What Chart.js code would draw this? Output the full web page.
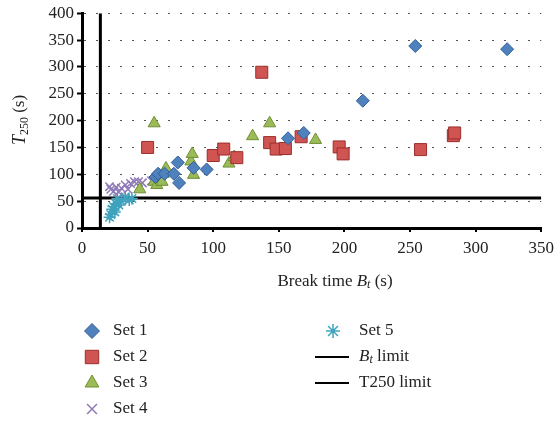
<!DOCTYPE html>
<html lang="en">
  <head>
    <meta charset="UTF-8" />
    <title>Break time vs T250</title>
    <script src="https://cdn.jsdelivr.net/npm/chart.js"></script>
    <style>
      * {
        box-sizing: border-box;
        padding: 0;
        margin: 0;
      }
      body {
        background: #fff;
        width: 560px;
        height: 425px;
        overflow: hidden;
      }
      .wrap {
        position: relative;
        width: 560px;
        height: 425px;
      }
    </style>
  </head>
  <body>
    <div class="wrap">
      <canvas id="myChart"></canvas>
    </div>
  </body>
  <script>
    // values
    const set1X = [56, 58, 63, 70, 73, 74, 85, 95, 157, 169, 214, 254, 324];
    const set1Y = [95, 101, 101, 101, 122, 84, 112, 109, 167, 177, 237, 339, 333];
    const set2X = [50, 100, 108, 118, 137, 143, 148, 155, 167, 196, 199, 258, 283, 284];
    const set2Y = [150, 135, 147, 131, 290, 159, 147, 148, 170, 151, 138, 146, 172, 177];
    const set3X = [44, 55, 55, 57, 61, 62, 64, 83, 84, 85, 112, 116, 130, 143, 178];
    const set3Y = [72, 195, 86, 80, 86, 101, 111, 124, 138, 99, 120, 132, 171, 195, 164];
    const set4X = [21, 22, 24, 26, 28, 30, 33, 35, 37, 40, 43, 46, 53];
    const set4Y = [77, 72, 68, 76, 67, 74, 80, 72, 83, 86, 86, 84, 88];
    const set5X = [21, 22, 23, 24, 25, 26, 28, 30, 27, 33, 36, 38];
    const set5Y = [20, 25, 35, 40, 30, 45, 43, 50, 55, 58, 52, 55];
    const btLimit = 14;
    const t250Limit = 56;
    const xTicks = [0, 50, 100, 150, 200, 250, 300, 350];
    const yTicks = [0, 50, 100, 150, 200, 250, 300, 350, 400];

    const SERIF = "'Liberation Serif', 'DejaVu Serif', serif";
    const pts = (xs, ys) => xs.map((x, i) => ({ x: x, y: ys[i] }));

    const sets = [
      { label: "Set 1", data: pts(set1X, set1Y), style: "rectRot", r: 6.5, fill: "#4f81bd", line: "#2f5e98" },
      { label: "Set 2", data: pts(set2X, set2Y), style: "rect", r: 8.5, fill: "#d05452", line: "#9b2f2d" },
      { label: "Set 3", data: pts(set3X, set3Y), style: "triangle", r: 7, fill: "#9bbb59", line: "#6f8f35" },
      { label: "Set 4", data: pts(set4X, set4Y), style: "crossRot", r: 6, fill: "#8f7ab8", line: "#8f7ab8" },
      { label: "Set 5", data: pts(set5X, set5Y), style: "star", r: 6, fill: "#4bacc6", line: "#3fa3bd" },
    ];

    const datasets = sets.map((s) => ({
      label: s.label,
      data: s.data,
      pointStyle: s.style,
      pointRadius: s.r,
      pointBackgroundColor: s.fill,
      pointBorderColor: s.line,
      pointBorderWidth: s.style === "crossRot" || s.style === "star" ? 1.5 : 1,
      showLine: false,
    }));
    datasets.push({
      label: "Bt limit",
      data: [{ x: btLimit, y: 0 }, { x: btLimit, y: 400 }],
      showLine: true,
      borderColor: "#000",
      borderWidth: 3,
      pointRadius: 0,
    });
    datasets.push({
      label: "T250 limit",
      data: [{ x: 0, y: t250Limit }, { x: 350, y: t250Limit }],
      showLine: true,
      borderColor: "#000",
      borderWidth: 3,
      pointRadius: 0,
    });

    // axis titles with italic / subscript parts, plus the two-column legend
    const extras = {
      id: "extras",
      afterDraw(chart) {
        const c = chart.ctx;
        c.save();
        c.fillStyle = "#222";
        c.textBaseline = "middle";

        // y title: T250 (s)
        c.save();
        c.translate(20, 120);
        c.rotate(-Math.PI / 2);
        c.textAlign = "left";
        c.font = "italic 18px " + SERIF;
        const w1 = c.measureText("T").width;
        c.font = "12px " + SERIF;
        const w2 = c.measureText("250").width;
        c.font = "17px " + SERIF;
        const w3 = c.measureText(" (s)").width;
        let x0 = -(w1 + w2 + w3) / 2;
        c.font = "italic 18px " + SERIF;
        c.fillText("T", x0, 0);
        c.font = "12px " + SERIF;
        c.fillText("250", x0 + w1, 5);
        c.font = "17px " + SERIF;
        c.fillText(" (s)", x0 + w1 + w2, 0);
        c.restore();

        // x title: Break time Bt (s)
        c.textAlign = "left";
        c.font = "17px " + SERIF;
        const a = "Break time ";
        const wa = c.measureText(a).width;
        c.font = "italic 17px " + SERIF;
        const wb = c.measureText("B").width;
        c.font = "italic 12px " + SERIF;
        const wt = c.measureText("t").width;
        c.font = "17px " + SERIF;
        const wc = c.measureText(" (s)").width;
        let xs = 335 - (wa + wb + wt + wc) / 2;
        const yT = 282;
        c.font = "17px " + SERIF;
        c.fillText(a, xs, yT);
        c.font = "italic 17px " + SERIF;
        c.fillText("B", xs + wa, yT);
        c.font = "italic 12px " + SERIF;
        c.fillText("t", xs + wa + wb, yT + 3);
        c.font = "17px " + SERIF;
        c.fillText(" (s)", xs + wa + wb + wt, yT);

        // legend
        const rows = [331, 357, 383, 409];
        c.font = "17px " + SERIF;
        sets.forEach((s, i) => {
          const col = i < 4 ? 0 : 1;
          const row = i < 4 ? i : i - 4;
          const mx = col === 0 ? 92 : 333;
          const tx = col === 0 ? 113 : 359;
          c.fillStyle = s.fill;
          c.strokeStyle = s.line;
          c.lineWidth = s.style === "crossRot" || s.style === "star" ? 1.5 : 1;
          Chart.helpers.drawPoint(c, { pointStyle: s.style, radius: s.r + 1, rotation: 0, borderWidth: c.lineWidth }, mx, rows[row]);
          c.fillStyle = "#222";
          c.fillText(s.label, tx, rows[row]);
        });
        c.strokeStyle = "#000";
        c.lineWidth = 2;
        [1, 2].forEach((row) => {
          c.beginPath();
          c.moveTo(315, rows[row]);
          c.lineTo(349, rows[row]);
          c.stroke();
        });
        c.fillStyle = "#222";
        c.font = "italic 17px " + SERIF;
        c.fillText("B", 359, rows[1]);
        const wB = c.measureText("B").width;
        c.font = "italic 12px " + SERIF;
        c.fillText("t", 359 + wB, rows[1] + 3);
        const wt2 = c.measureText("t").width;
        c.font = "17px " + SERIF;
        c.fillText(" limit", 359 + wB + wt2, rows[1]);
        c.fillText("T250 limit", 359, rows[2]);
        c.restore();
      },
    };

    const ctx = document.getElementById("myChart").getContext("2d");
    const myChart = new Chart(ctx, {
      type: "scatter",
      data: { datasets: datasets },
      options: {
        responsive: true,
        maintainAspectRatio: false,
        animation: false,
        layout: { padding: { top: 12, right: 18, bottom: 0, left: 0 } },
        plugins: {
          legend: { display: false },
          tooltip: { enabled: false },
        },
        scales: {
          x: {
            type: "linear",
            min: 0,
            max: 350,
            afterBuildTicks: (scale) => {
              scale.ticks = xTicks.map((v) => ({ value: v }));
            },
            afterFit: (scale) => {
              scale.height = 197;
            },
            border: { color: "#000", width: 3 },
            grid: {
              display: true,
              drawOnChartArea: false,
              drawTicks: true,
              tickLength: 4,
              color: "#000",
              lineWidth: 2,
            },
            ticks: {
              color: "#222",
              padding: 6,
              font: { family: SERIF, size: 17 },
              maxRotation: 0,
            },
          },
          y: {
            type: "linear",
            min: 0,
            max: 400,
            afterBuildTicks: (scale) => {
              scale.ticks = yTicks.map((v) => ({ value: v }));
            },
            afterFit: (scale) => {
              scale.width = 82;
            },
            border: { color: "#000", width: 3, dash: [2, 10] },
            grid: {
              color: "#555",
              lineWidth: 1,
              tickLength: 5,
              tickColor: "#000",
              tickWidth: 2,
              tickBorderDash: [],
            },
            ticks: {
              color: "#222",
              padding: 3,
              font: { family: SERIF, size: 17 },
            },
          },
        },
      },
      plugins: [extras],
    });
  </script>
</html>
